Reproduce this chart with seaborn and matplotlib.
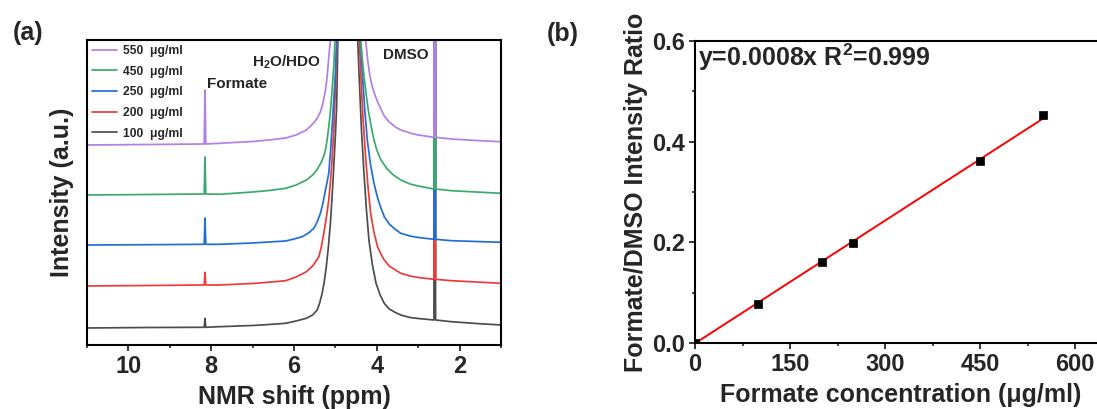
import matplotlib
matplotlib.use("Agg")
import matplotlib.pyplot as plt
from matplotlib.ticker import MultipleLocator, FormatStrFormatter
import numpy as np
import pandas as pd
import seaborn as sns

# ---- panel (a): 1H NMR spectra (ppm, a.u.) ----
ppm_100 = [11.0, 9.5, 8.17, 8.15, 8.13, 7.8, 7.0, 6.6, 6.2, 5.95, 5.7, 5.55, 5.44,
           5.38, 5.32, 5.27, 5.22, 5.17, 5.12, 5.08, 5.04, 5.0, 4.97, 4.94, 4.69,
           4.46, 4.43, 4.37, 4.31, 4.25, 4.19, 4.11, 4.02, 3.92, 3.82, 3.7, 3.55,
           3.42, 3.2, 3.0, 2.62, 2.60, 2.58, 2.2, 1.6, 1.0]
int_100 = [17, 17.5, 17.7, 26.7, 17.7, 18.3, 19.5, 20.5, 21.7, 24, 26.7, 30, 35,
           42, 51.7, 63, 78.3, 98, 122, 148, 178, 210, 238, 305, 3000,
           305, 272, 215, 172, 135, 105, 81, 62, 50, 41.7, 36, 32.5,
           30, 27.5, 26.5, 25, 1500, 25, 23.3, 21.5, 20]

ppm_200 = [11.0, 9.5, 8.17, 8.15, 8.13, 7.8, 7.0, 6.6, 6.2, 5.95, 5.7, 5.55, 5.45,
           5.40, 5.34, 5.28, 5.22, 5.16, 5.12, 5.08, 5.04, 5.0, 4.96, 4.69,
           4.42, 4.39, 4.33, 4.27, 4.21, 4.15, 4.07, 3.98, 3.90, 3.82, 3.7, 3.55,
           3.42, 3.2, 3.0, 2.62, 2.60, 2.58, 2.2, 1.6, 1.0]
int_200 = [59, 59.5, 60, 72.7, 60, 60, 61.5, 62.8, 64.3, 68, 73.3, 79, 85,
           88.3, 98, 111.7, 127, 145, 163, 185, 215, 255, 305, 3000,
           305, 272, 225, 188, 157, 132, 113, 98, 91, 85, 79, 75,
           71.7, 69, 67.5, 65.7, 1500, 65.7, 64.3, 63, 61.7]

ppm_250 = [11.0, 9.5, 8.17, 8.15, 8.13, 7.8, 7.0, 6.6, 6.2, 6.0, 5.8, 5.65, 5.52,
           5.44, 5.36, 5.30, 5.24, 5.20, 5.16, 5.12, 5.08, 5.04, 5.0, 4.97, 4.69,
           4.39, 4.35, 4.29, 4.23, 4.15, 4.07, 3.98, 3.90, 3.82, 3.7, 3.55, 3.42,
           3.2, 3.0, 2.62, 2.60, 2.58, 2.2, 1.6, 1.0]
int_250 = [100, 100.3, 100.7, 127, 100.7, 100.7, 102, 103, 104, 106, 108.3, 112, 116.7,
           123, 132, 142, 155, 163, 172, 192, 218, 244, 272, 305, 3000,
           305, 272, 235, 205, 180, 162, 147, 137, 128.3, 121, 115.5, 111.7,
           109, 107.5, 105.7, 1500, 105.7, 104.3, 103.5, 102.7]

ppm_450 = [11.0, 9.5, 8.17, 8.15, 8.13, 7.8, 7.0, 6.6, 6.2, 5.95, 5.7, 5.55, 5.45,
           5.35, 5.28, 5.24, 5.20, 5.16, 5.12, 5.08, 5.04, 5.01, 4.69,
           4.39, 4.33, 4.27, 4.21, 4.15, 4.08, 4.0, 3.9, 3.75, 3.6, 3.42,
           3.2, 3.0, 2.62, 2.60, 2.58, 2.2, 1.6, 1.0]
int_450 = [150, 150.5, 151, 188, 151, 150.7, 153, 154.5, 156.7, 160, 165, 170, 175,
           182, 189, 195, 205, 218, 234, 255, 278, 305, 3000,
           305, 277, 255, 236, 222, 207, 195, 185, 176, 170, 165,
           161, 159, 156, 1500, 156, 154.3, 153, 151.7]

ppm_550 = [11.0, 9.5, 8.17, 8.15, 8.13, 7.8, 7.0, 6.6, 6.2, 5.95, 5.7, 5.55, 5.45,
           5.36, 5.30, 5.24, 5.20, 5.16, 5.12, 4.69,
           4.27, 4.22, 4.17, 4.12, 4.07, 3.98, 3.90, 3.82, 3.7, 3.55, 3.42,
           3.2, 3.0, 2.62, 2.60, 2.58, 2.2, 1.6, 1.0]
int_550 = [200, 200.5, 201, 255, 201, 201.7, 203.5, 205, 207, 210, 215, 221, 226,
           233.3, 242, 255, 268, 288, 305, 3000,
           305, 285, 270, 260, 253, 243, 236, 229, 223, 218, 215,
           212, 210, 207.7, 1500, 207.7, 206, 204.5, 203.3]

spec_labels = ["100  μg/ml", "200  μg/ml", "250  μg/ml", "450  μg/ml", "550  μg/ml"]
spec_colors = ["#4d4d4d", "#ec3b3b", "#1f6fd8", "#3aab6b", "#b27fe4"]

# ---- panel (b): calibration ----
conc = [0, 100, 200, 250, 450, 550]
ratio = [0, 0.078, 0.162, 0.198, 0.361, 0.452]

sns.set_style("ticks")
plt.rcParams.update({
    "font.family": ["Liberation Sans", "DejaVu Sans"],
    "font.weight": "bold",
    "axes.labelweight": "bold",
    "mathtext.fontset": "custom",
    "mathtext.rm": "Liberation Sans:bold",
    "mathtext.it": "Liberation Sans:bold",
    "mathtext.bf": "Liberation Sans:bold",
    "mathtext.default": "regular",
    "axes.linewidth": 1.5,
    "axes.edgecolor": "black",
})

fig = plt.figure(figsize=(10.97, 4.09), dpi=100)
ax1 = fig.add_axes([0.0793, 0.1565, 0.3774, 0.7457])
ax2 = fig.add_axes([0.6336, 0.1606, 0.3752, 0.7399])

spectra = [(ppm_100, int_100), (ppm_200, int_200), (ppm_250, int_250),
           (ppm_450, int_450), (ppm_550, int_550)]
for (x, y), lbl, c in zip(spectra, spec_labels, spec_colors):
    df = pd.DataFrame({"ppm": x, "I": y})
    sns.lineplot(data=df, x="ppm", y="I", ax=ax1, color=c, lw=1.25,
                 label=lbl, estimator=None, sort=False)

ax1.set_xlim(11, 1)
ax1.set_ylim(0, 305)
ax1.set_yticks([])
ax1.xaxis.set_major_locator(MultipleLocator(2))
ax1.xaxis.set_minor_locator(MultipleLocator(1))
ax1.tick_params(axis="x", which="major", direction="out", length=4, width=1.3,
                labelsize=17, pad=3)
ax1.tick_params(axis="x", which="minor", direction="out", length=2.5, width=1.2)
ax1.set_xlabel("NMR shift (ppm)", fontsize=18, labelpad=5)
ax1.set_ylabel("Intensity (a.u.)", fontsize=18, labelpad=9)

h, l = ax1.get_legend_handles_labels()
ax1.legend(h[::-1], l[::-1], loc="upper left", frameon=False, fontsize=8.7,
           handlelength=2.1, handletextpad=0.5, labelspacing=0.72,
           borderaxespad=0.1, borderpad=0.3)

ax1.text(8.09, 256.7, "Formate", fontsize=11, ha="left", va="baseline")
ax1.text(7.02, 278, "H$_2$O/HDO", fontsize=11, ha="left", va="baseline")
ax1.text(3.86, 285.7, "DMSO", fontsize=11, ha="left", va="baseline")

# calibration fit through origin
cx = np.array(conc, dtype=float)
cy = np.array(ratio, dtype=float)
slope = (cx * cy).sum() / (cx * cx).sum()
fit = pd.DataFrame({"x": [0, 550], "y": [0, slope * 550]})
sns.lineplot(data=fit, x="x", y="y", ax=ax2, color="#ff0000", lw=1.4)
sns.scatterplot(x=conc, y=ratio, ax=ax2, marker="s", s=38, color="black",
                edgecolor="black", zorder=3)

ax2.set_xlim(0, 650)
ax2.set_ylim(0, 0.6)
ax2.xaxis.set_major_locator(MultipleLocator(150))
ax2.xaxis.set_minor_locator(MultipleLocator(75))
ax2.yaxis.set_major_locator(MultipleLocator(0.2))
ax2.yaxis.set_minor_locator(MultipleLocator(0.1))
ax2.yaxis.set_major_formatter(FormatStrFormatter("%.1f"))
ax2.tick_params(which="major", direction="out", length=4, width=1.3,
                labelsize=17, pad=3)
ax2.tick_params(which="minor", direction="out", length=2.5, width=1.2)
ax2.set_xlabel("Formate concentration (μg/ml)", fontsize=18, labelpad=5)
ax2.set_ylabel("Formate/DMSO Intensity Ratio", fontsize=18, labelpad=3)
ax2.text(4.7, 0.55, "y=0.0008x R$^2$=0.999", fontsize=18, ha="left", va="baseline")

fig.text(0.012, 0.92, "(a)", fontsize=18, ha="left", va="center")
fig.text(0.4985, 0.918, "(b)", fontsize=18, ha="left", va="center")

fig.savefig("out.png", dpi=100)
